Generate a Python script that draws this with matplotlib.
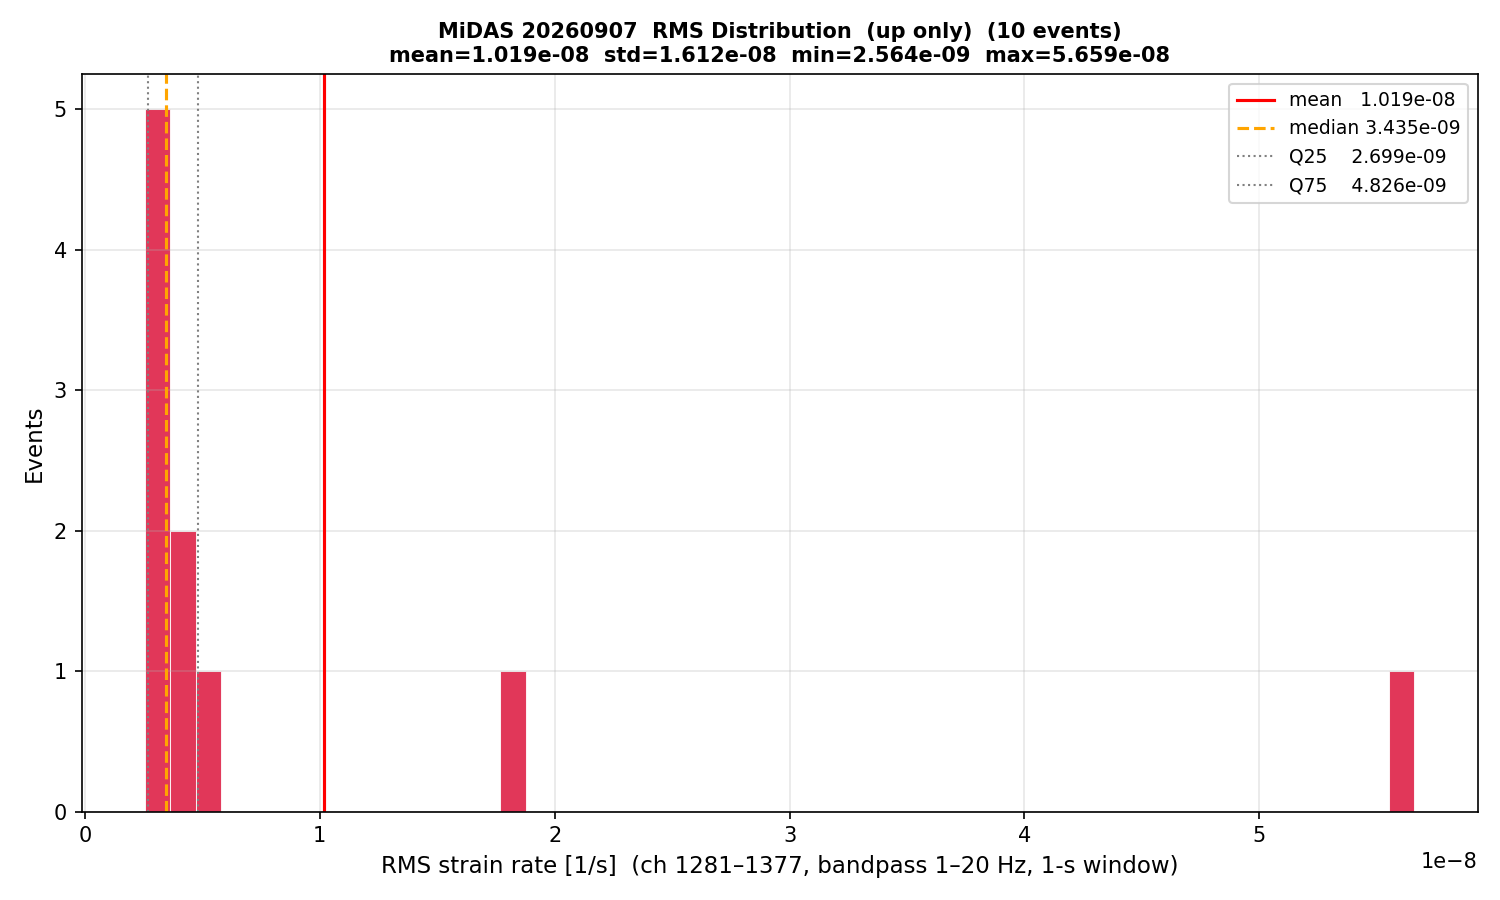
import numpy as np
import matplotlib
matplotlib.use("Agg")
import matplotlib.pyplot as plt

# RMS values per event (strain rate, 1/s)
rms_values = np.array([2.564, 2.62, 2.68, 2.756, 3.21, 3.66, 4.504, 4.9333, 18.3827, 56.59]) * 1e-9
n_bins = 50

mean = rms_values.mean()
std = rms_values.std()
vmin = rms_values.min()
vmax = rms_values.max()
median = np.median(rms_values)
q25 = np.percentile(rms_values, 25)
q75 = np.percentile(rms_values, 75)

fig, ax = plt.subplots(figsize=(10, 6), dpi=150)

ax.hist(rms_values, bins=n_bins, color="crimson", alpha=0.85,
        edgecolor="white", linewidth=0.5)

ax.axvline(mean, color="red", linewidth=1.5, label=f"mean   {mean:.3e}")
ax.axvline(median, color="orange", linewidth=1.5, linestyle="--",
           label=f"median {median:.3e}")
ax.axvline(q25, color="gray", linewidth=1, linestyle=":",
           label=f"Q25    {q25:.3e}")
ax.axvline(q75, color="gray", linewidth=1, linestyle=":",
           label=f"Q75    {q75:.3e}")

ax.set_xlabel("RMS strain rate [1/s]  (ch 1281\u20131377, bandpass 1\u201320 Hz, 1-s window)",
              fontsize=11)
ax.set_ylabel("Events", fontsize=11)
ax.set_title(f"MiDAS 20260907  RMS Distribution  (up only)  ({len(rms_values)} events)\n"
             f"mean={mean:.3e}  std={std:.3e}  min={vmin:.3e}  max={vmax:.3e}",
             fontsize=10, fontweight="bold")
ax.grid(True, alpha=0.3)
ax.legend(loc="upper right", fontsize=9)

plt.tight_layout()
fig.savefig("out.png")
